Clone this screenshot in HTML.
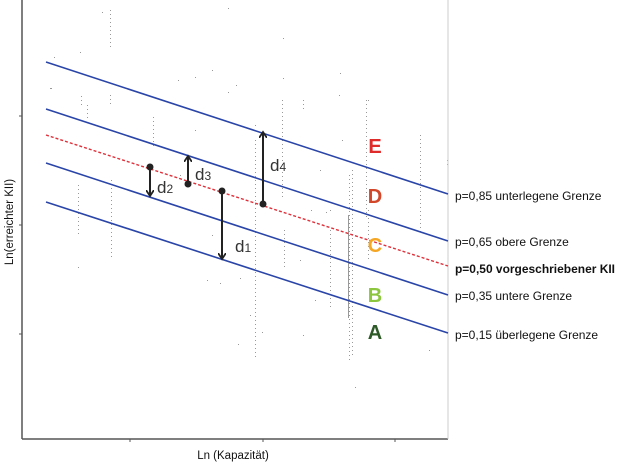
<!DOCTYPE html>
<html><head><meta charset="utf-8"><style>
html,body{margin:0;padding:0;background:#fff;}
svg{display:block;font-family:"Liberation Sans",sans-serif;}
</style></head><body>
<svg width="620" height="463" viewBox="0 0 620 463" xmlns="http://www.w3.org/2000/svg">
<defs>
<marker id="ah" markerWidth="8" markerHeight="8" refX="5" refY="4" orient="auto" markerUnits="userSpaceOnUse">
<path d="M0,0 L6,4 L0,8" fill="none" stroke="#222" stroke-width="1.8"/>
</marker>
</defs>
<!-- scatter columns (dotted) -->
<g stroke="#999" stroke-width="1" stroke-dasharray="1,3">
<line x1="110.5" y1="10" x2="110.5" y2="50"/><line x1="110.5" y1="95" x2="110.5" y2="107"/>
<line x1="81.5" y1="96" x2="81.5" y2="106"/><line x1="87.5" y1="105" x2="87.5" y2="120"/>
<line x1="153.5" y1="117" x2="153.5" y2="147"/><line x1="255.5" y1="140" x2="255.5" y2="360"/>
<line x1="282.5" y1="100" x2="282.5" y2="200"/><line x1="284.5" y1="230" x2="284.5" y2="270"/>
<line x1="303.5" y1="100" x2="303.5" y2="110"/><line x1="349.5" y1="175" x2="349.5" y2="360"/>
<line x1="368.5" y1="210" x2="368.5" y2="260"/><line x1="420.5" y1="135" x2="420.5" y2="235"/>
<line x1="78.5" y1="185" x2="78.5" y2="235"/><line x1="111.5" y1="180" x2="111.5" y2="260"/>
<line x1="330.5" y1="230" x2="330.5" y2="310"/><line x1="352.5" y1="170" x2="352.5" y2="355"/>
<line x1="366.5" y1="100" x2="366.5" y2="220"/><line x1="447.5" y1="160" x2="447.5" y2="165"/>
</g>
<line x1="348.5" y1="215" x2="348.5" y2="318" stroke="#999" stroke-width="1"/>
<g fill="#999">
<rect x="102" y="12" width="1" height="1"/><rect x="228" y="8" width="1" height="1"/><rect x="283" y="38" width="1" height="1"/><rect x="283" y="78" width="1" height="1"/>
<rect x="54" y="57" width="1" height="1"/><rect x="80" y="52" width="1" height="1"/><rect x="50" y="88" width="2" height="1"/>
<rect x="178" y="80" width="1" height="1"/><rect x="195" y="77" width="1" height="1"/><rect x="212" y="70" width="1" height="1"/>
<rect x="236" y="85" width="1" height="1"/><rect x="228" y="92" width="1" height="1"/><rect x="255" y="125" width="1" height="1"/>
<rect x="340" y="73" width="1" height="1"/><rect x="339" y="95" width="1" height="1"/><rect x="355" y="387" width="1" height="1"/>
<rect x="368" y="100" width="1" height="1"/><rect x="78" y="267" width="1" height="1"/>
<rect x="212" y="235" width="1" height="1"/><rect x="207" y="280" width="1" height="1"/><rect x="220" y="283" width="1" height="1"/>
<rect x="240" y="278" width="1" height="1"/><rect x="238" y="344" width="1" height="1"/><rect x="262" y="332" width="1" height="1"/>
<rect x="250" y="315" width="1" height="1"/><rect x="303" y="335" width="1" height="1"/><rect x="315" y="300" width="1" height="1"/>
<rect x="429" y="350" width="1" height="1"/><rect x="180" y="175" width="1" height="1"/><rect x="195" y="130" width="1" height="1"/>
<rect x="320" y="170" width="1" height="1"/><rect x="311" y="210" width="1" height="1"/><rect x="300" y="260" width="1" height="1"/>
<rect x="342" y="140" width="1" height="1"/><rect x="330" y="210" width="1" height="1"/><rect x="326" y="212" width="1" height="1"/>
</g>
<!-- axes -->
<line x1="22" y1="0" x2="22" y2="439" stroke="#555" stroke-width="1.5"/>
<line x1="22" y1="439" x2="448" y2="439" stroke="#555" stroke-width="1.5"/>
<line x1="448" y1="0" x2="448" y2="439" stroke="#ccc" stroke-width="1"/>
<g stroke="#555" stroke-width="1">
<line x1="19" y1="116" x2="22" y2="116"/><line x1="19" y1="225" x2="22" y2="225"/><line x1="19" y1="334" x2="22" y2="334"/>
<line x1="130" y1="439" x2="130" y2="442"/><line x1="263" y1="439" x2="263" y2="442"/><line x1="395" y1="439" x2="395" y2="442"/>
</g>
<!-- lines -->
<g stroke="#2a45a8" stroke-width="1.6" fill="none">
<line x1="46" y1="62" x2="448" y2="194"/>
<line x1="46" y1="109" x2="448" y2="241"/>
<line x1="46" y1="163" x2="448" y2="295"/>
<line x1="46" y1="202" x2="448" y2="333"/>
</g>
<line x1="46" y1="135" x2="448" y2="266" stroke="#e0303a" stroke-width="1.4" stroke-dasharray="3,2"/>
<!-- arrows -->
<g stroke="#222" stroke-width="2" fill="#222">
<line x1="150" y1="167" x2="150" y2="195" marker-end="url(#ah)"/><circle cx="150" cy="167" r="2.5"/>
<line x1="188" y1="184" x2="188" y2="157" marker-end="url(#ah)"/><circle cx="188" cy="184" r="2.5"/>
<line x1="222" y1="191" x2="222" y2="258" marker-end="url(#ah)"/><circle cx="222" cy="191" r="2.5"/>
<line x1="263" y1="204" x2="263" y2="133" marker-end="url(#ah)"/><circle cx="263" cy="204" r="2.5"/>
</g>
<g fill="#333" font-size="17">
<text x="157" y="193">d<tspan font-size="12">2</tspan></text>
<text x="195" y="180">d<tspan font-size="12">3</tspan></text>
<text x="235" y="252">d<tspan font-size="12">1</tspan></text>
<text x="270" y="171">d<tspan font-size="12">4</tspan></text>
</g>
<g font-size="20" font-weight="bold" text-anchor="middle">
<text x="375" y="153" fill="#e02b2b" textLength="15">E</text>
<text x="375" y="203" fill="#d2472a">D</text>
<text x="375" y="252" fill="#f5a623">C</text>
<text x="375" y="302" fill="#8cc63f">B</text>
<text x="375" y="339" fill="#2d5a27">A</text>
</g>
<g font-size="12" fill="#111">
<text x="455" y="200">p=0,85 unterlegene Grenze</text>
<text x="455" y="246">p=0,65 obere Grenze</text>
<text x="455" y="273" font-weight="bold" textLength="160" lengthAdjust="spacingAndGlyphs">p=0,50 vorgeschriebener KII</text>
<text x="455" y="300">p=0,35 untere Grenze</text>
<text x="455" y="339">p=0,15 überlegene Grenze</text>
</g>
<text x="233" y="459" font-size="11.5" text-anchor="middle" fill="#111">Ln (Kapazität)</text>
<text transform="translate(13,222) rotate(-90)" font-size="11.5" text-anchor="middle" fill="#111">Ln(erreichter KII)</text>
</svg>
</body></html>
